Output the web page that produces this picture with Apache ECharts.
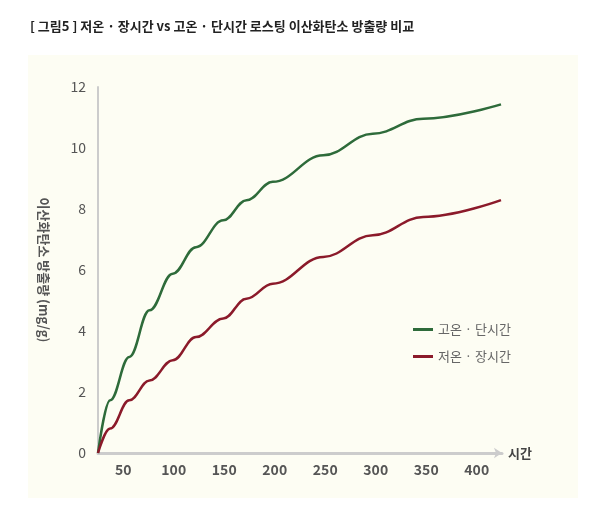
<!DOCTYPE html><html><head><meta charset="utf-8"><script src="https://cdn.jsdelivr.net/npm/echarts@6/dist/echarts.min.js"></script></head><body style="margin:0;background:#fff"><div id="c" style="width:604px;height:519px"></div><script>
const times=[25,37,56,76,99,122,149,172,198,248,297,347,424];
const highShort=[0,1.73,3.15,4.68,5.88,6.75,7.63,8.29,8.89,9.76,10.47,10.96,11.43];
const lowLong=[0,0.8,1.73,2.38,3.04,3.80,4.41,5.06,5.55,6.43,7.14,7.74,8.29];
const xTicks=[50,100,150,200,250,300,350,400];
const zip=(a,b)=>a.map((v,i)=>[v,b[i]]);
const ch=echarts.init(document.getElementById('c'));
const F='"Noto Sans CJK KR","Noto Sans",sans-serif';
ch.setOption({
animation:false,
graphic:[{type:'rect',shape:{x:28,y:55,width:550,height:443},style:{fill:'#fdfdf3'},z:-10},
{type:'text',left:30,top:20,style:{text:'[ 그림5 ] 저온 · 장시간 vs 고온 · 단시간 로스팅 이산화탄소 방출량 비교',font:'bold 13px '+F,fill:'#222'}}],
grid:{left:98,right:102,top:87,bottom:66},
legend:{orient:'vertical',left:408,top:318,itemWidth:20,itemHeight:3,itemGap:14,icon:'rect',textStyle:{color:'#666',fontSize:13,fontFamily:F},data:['고온 · 단시간','저온 · 장시간']},
xAxis:{type:'value',min:25,max:425,name:'시간',nameGap:6,nameTextStyle:{color:'#444',fontWeight:'bold',fontSize:13,fontFamily:F},
axisLine:{lineStyle:{color:'#ccc',width:3},symbol:['none','arrow'],symbolSize:[8,8]},
axisTick:{show:false},splitLine:{show:false},
axisLabel:{customValues:xTicks,color:'#555',fontSize:14,fontWeight:'bold',fontFamily:F,margin:10}},
yAxis:{type:'value',min:0,max:12,interval:2,name:'이산화탄소 방출량 (mg/g)',nameLocation:'middle',nameRotate:-90,nameGap:48,
nameTextStyle:{color:'#555',fontSize:13,fontWeight:'bold',fontFamily:F},
axisLine:{show:true,lineStyle:{color:'#ccc',width:2}},axisTick:{show:false},splitLine:{show:false},
axisLabel:{color:'#555',fontSize:14,fontFamily:F,margin:12}},
series:[{name:'고온 · 단시간',type:'line',smooth:0.4,smoothMonotone:'x',showSymbol:false,data:zip(times,highShort),lineStyle:{color:'#2e6b3a',width:2.5},itemStyle:{color:'#2e6b3a'}},
{name:'저온 · 장시간',type:'line',smooth:0.4,smoothMonotone:'x',showSymbol:false,data:zip(times,lowLong),lineStyle:{color:'#8b1a2a',width:2.5},itemStyle:{color:'#8b1a2a'}}]
});
</script></body></html>
